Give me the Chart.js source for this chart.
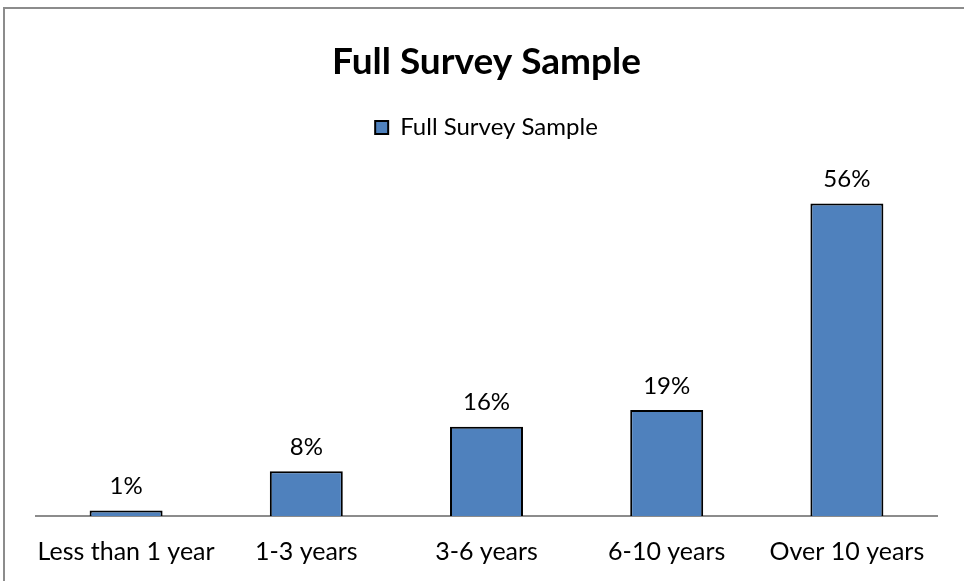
<!DOCTYPE html>
<html>
<head>
<meta charset="utf-8">
<script src="https://cdn.jsdelivr.net/npm/chart.js@4"></script>
<style>
    html, body { margin: 0; padding: 0; background: #fff; }
    #wrap { position: relative; width: 964px; height: 581px; }
    #frame { position: absolute; left: 3px; top: 7px; right: 0; bottom: 0; border-top: 2px solid #8c8c8c; border-left: 2px solid #8c8c8c; }
    #myChart { position: absolute; left: 0; top: 0; }
</style>
</head>
<body>
<div id="wrap">
    <div id="frame"></div>
    <canvas id="myChart" width="964" height="581"></canvas>
</div>
<script>
var categories = ['Less than 1 year', '1-3 years', '3-6 years', '6-10 years', 'Over 10 years'];
var sampleValues = [1, 8, 16, 19, 56];
var seriesName = 'Full Survey Sample';

var fontFamily = 'Lato, "Open Sans", sans-serif';

// draws the % labels above each bar
var barLabels = {
    id: 'barLabels',
    afterDatasetsDraw: function (chart) {
        var ctx = chart.ctx;
        var meta = chart.getDatasetMeta(0);
        ctx.save();
        ctx.font = '24px ' + fontFamily;
        ctx.fillStyle = '#000';
        ctx.textAlign = 'center';
        ctx.textBaseline = 'middle';
        meta.data.forEach(function (bar, i) {
            ctx.fillText(sampleValues[i] + '%', bar.x, bar.y - 24);
        });
        ctx.restore();
    }
};

const ctx = document.getElementById('myChart');
const myChart = new Chart(ctx, {
    type: 'bar',
    data: {
        labels: categories,
        datasets: [{
            label: seriesName,
            data: sampleValues,
            backgroundColor: '#4f81bd',
            borderColor: '#000',
            borderWidth: 2,
            borderSkipped: 'bottom',
            barPercentage: 0.405,
            categoryPercentage: 1
        }]
    },
    options: {
        responsive: false,
        animation: false,
        layout: {
            padding: { top: 40, left: 36, right: 27, bottom: -7 }
        },
        plugins: {
            title: {
                display: true,
                text: seriesName,
                color: '#000',
                font: { family: fontFamily, size: 37, weight: 'bold' },
                padding: { top: 0, bottom: 21 }
            },
            legend: {
                display: true,
                labels: {
                    color: '#000',
                    font: { family: fontFamily, size: 24 },
                    boxWidth: 13,
                    boxHeight: 13,
                    padding: 10
                }
            },
            tooltip: { enabled: false }
        },
        scales: {
            x: {
                grid: { display: false, drawTicks: false },
                border: { display: true, color: '#8c8c8c', width: 2 },
                ticks: {
                    color: '#000',
                    font: { family: fontFamily, size: 25 },
                    padding: 21,
                    maxRotation: 0,
                    minRotation: 0,
                    autoSkip: false
                },
                afterFit: function (scale) {
                    scale.paddingLeft = 0;
                    scale.paddingRight = 0;
                }
            },
            y: {
                display: false,
                min: 0,
                max: 65.7
            }
        }
    },
    plugins: [barLabels]
});
</script>
</body>
</html>
